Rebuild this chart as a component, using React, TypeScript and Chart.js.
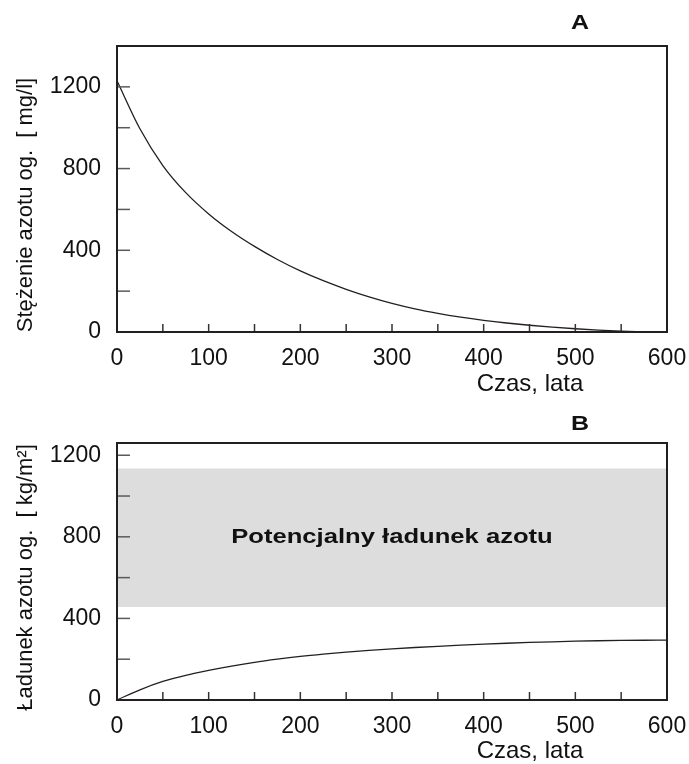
import React, { useEffect, useRef } from 'react';
import { Chart, registerables } from 'chart.js';

Chart.register(...registerables);

// Time axis shared by both panels [years]
const years = [0, 25, 50, 75, 100, 125, 150, 175, 200, 225, 250, 275, 300, 325, 350, 375, 400, 425, 450, 475, 500, 525, 550, 575, 600];

// Panel A: total nitrogen concentration [mg/l]
const concentration = [1230, 995, 815, 682, 578, 492, 419, 355, 299, 251, 209, 172, 140, 113, 91, 72.5, 57, 44, 33, 24, 16, 9, 4, 1, 0];

// Panel B: accumulated nitrogen load [kg/m²]
const nitrogenLoad = [0, 50, 91, 121, 145, 166, 184.5, 200, 213.5, 224.7, 234.4, 242.9, 250.5, 257.3, 263.4, 268.9, 273.9, 278.3, 282.1, 285.4, 288.2, 290.4, 292, 293, 293.5];

// Potential nitrogen load range (shaded band) [kg/m²]
const potentialLow = 456;
const potentialHigh = 1135;

// Axis ticks
const xTickLabels = [0, 100, 200, 300, 400, 500, 600];
const yTickLabels = [0, 400, 800, 1200];
const xMinorTicks = [0, 50, 100, 150, 200, 250, 300, 350, 400, 450, 500, 550, 600];
const yMinorTicks = [0, 200, 400, 600, 800, 1000, 1200];

const FONT = "'Liberation Sans', Arial, sans-serif";
const INK = '#231f20';

const panelPlugin = {
  id: 'panelDecor',
  afterDatasetsDraw(chart: any, _args: any, o: any) {
    const { ctx, chartArea: a, scales } = chart;
    const xs = scales.x;
    const ys = scales.y;
    ctx.save();

    // inward tick marks
    ctx.lineWidth = 1.5;
    ctx.strokeStyle = '#5a5a5a';
    ys.ticks.forEach((t: any) => {
      if (t.value <= ys.min || t.value >= ys.max) return;
      const y = ys.getPixelForValue(t.value);
      ctx.beginPath();
      ctx.moveTo(a.left, y);
      ctx.lineTo(a.left + 13, y);
      ctx.stroke();
    });
    ctx.strokeStyle = '#333';
    xs.ticks.forEach((t: any) => {
      if (t.value <= xs.min || t.value >= xs.max) return;
      const x = xs.getPixelForValue(t.value);
      ctx.beginPath();
      ctx.moveTo(x, a.bottom);
      ctx.lineTo(x, a.bottom - 8);
      ctx.stroke();
    });

    // frame
    ctx.lineWidth = 2;
    ctx.strokeStyle = INK;
    ctx.strokeRect(a.left, a.top, a.right - a.left, a.bottom - a.top);

    ctx.fillStyle = '#111';
    ctx.textAlign = 'center';
    ctx.textBaseline = 'middle';

    // band caption
    if (o.bandLabel) {
      const cx = (a.left + a.right) / 2;
      const cy = ys.getPixelForValue((potentialLow + potentialHigh) / 2);
      ctx.save();
      ctx.translate(cx, cy);
      ctx.scale(1.28, 1);
      ctx.font = `bold 20px ${FONT}`;
      ctx.fillText(o.bandLabel, 0, 0);
      ctx.restore();
    }

    // panel letter
    ctx.save();
    ctx.translate(a.right - 87, a.top + o.letterDy);
    ctx.scale(1.25, 1);
    ctx.font = `bold 20px ${FONT}`;
    ctx.fillText(o.letter, 0, 0);
    ctx.restore();

    // x axis title
    ctx.font = `24px ${FONT}`;
    ctx.fillText(o.xTitle, a.right - 137, a.bottom + o.xTitleDy);

    // y axis title
    ctx.save();
    ctx.translate(26, (a.top + a.bottom) / 2 + o.yTitleDy);
    ctx.rotate(-Math.PI / 2);
    ctx.font = `22px ${FONT}`;
    ctx.fillText(o.yTitle, 0, 0);
    ctx.restore();

    ctx.restore();
  },
};

function makeOptions(yMax: number, xHeight: number, padTop: number, decor: any) {
  return {
    responsive: false,
    animation: false,
    devicePixelRatio: 1,
    layout: { padding: { top: padTop, right: 22, left: 0, bottom: 0 } },
    plugins: {
      legend: { display: false },
      tooltip: { enabled: false },
      panelDecor: decor,
    },
    elements: { point: { radius: 0 } },
    scales: {
      x: {
        type: 'linear',
        min: 0,
        max: 600,
        grid: { display: false, drawTicks: false },
        border: { display: false },
        afterBuildTicks: (s: any) => {
          s.ticks = xMinorTicks.map((value) => ({ value }));
        },
        afterFit: (s: any) => {
          s.height = xHeight;
          s.paddingLeft = 0;
          s.paddingRight = 0;
        },
        ticks: {
          autoSkip: false,
          maxRotation: 0,
          padding: 13,
          color: '#111',
          font: { family: FONT, size: 23 },
          callback: (v: any) => (xTickLabels.includes(v) ? String(v) : ''),
        },
      },
      y: {
        type: 'linear',
        min: 0,
        max: yMax,
        grid: { display: false, drawTicks: false },
        border: { display: false },
        afterBuildTicks: (s: any) => {
          s.ticks = yMinorTicks.map((value) => ({ value }));
        },
        afterFit: (s: any) => {
          s.width = 117;
          s.paddingTop = 0;
          s.paddingBottom = 0;
        },
        ticks: {
          autoSkip: false,
          padding: 16,
          color: '#111',
          font: { family: FONT, size: 23 },
          callback: (v: any) => (yTickLabels.includes(v) ? String(v) : ''),
        },
      },
    },
  };
}

export default function App() {
  const refA = useRef<HTMLCanvasElement>(null);
  const refB = useRef<HTMLCanvasElement>(null);

  useEffect(() => {
    const chartA = new Chart(refA.current as HTMLCanvasElement, {
      type: 'line',
      data: {
        datasets: [
          {
            label: 'Stężenie azotu og.',
            data: years.map((x, i) => ({ x, y: concentration[i] })),
            borderColor: INK,
            borderWidth: 1.3,
            cubicInterpolationMode: 'monotone',
            fill: false,
          },
        ],
      },
      options: makeOptions(1400, 68, 46, {
        letter: 'A',
        letterDy: -23,
        xTitle: 'Czas, lata',
        xTitleDy: 52,
        yTitle: 'Stężenie azotu og.  [ mg/l]',
        yTitleDy: 16,
      }) as any,
      plugins: [panelPlugin],
    });

    const chartB = new Chart(refB.current as HTMLCanvasElement, {
      type: 'line',
      data: {
        datasets: [
          {
            label: 'Ładunek azotu og.',
            data: years.map((x, i) => ({ x, y: nitrogenLoad[i] })),
            borderColor: INK,
            borderWidth: 1.3,
            cubicInterpolationMode: 'monotone',
            fill: false,
          },
          {
            label: 'band-low',
            data: [
              { x: 0, y: potentialLow },
              { x: 600, y: potentialLow },
            ],
            borderWidth: 0,
            borderColor: 'rgba(0,0,0,0)',
            fill: false,
          },
          {
            label: 'Potencjalny ładunek azotu',
            data: [
              { x: 0, y: potentialHigh },
              { x: 600, y: potentialHigh },
            ],
            borderWidth: 0,
            borderColor: 'rgba(0,0,0,0)',
            backgroundColor: '#dddddd',
            fill: '-1',
          },
        ],
      },
      options: makeOptions(1260, 64, 43, {
        letter: 'B',
        letterDy: -19,
        bandLabel: 'Potencjalny ładunek azotu',
        xTitle: 'Czas, lata',
        xTitleDy: 51,
        yTitle: 'Ładunek azotu og.  [ kg/m²]',
        yTitleDy: 6,
      }) as any,
      plugins: [panelPlugin],
    });

    return () => {
      chartA.destroy();
      chartB.destroy();
    };
  }, []);

  return (
    <div style={{ position: 'fixed', left: 0, top: 0, width: 689, height: 764, background: '#fff' }}>
      <canvas ref={refA} width={689} height={400} style={{ display: 'block', width: 689, height: 400 }} />
      <canvas ref={refB} width={689} height={364} style={{ display: 'block', width: 689, height: 364 }} />
    </div>
  );
}
